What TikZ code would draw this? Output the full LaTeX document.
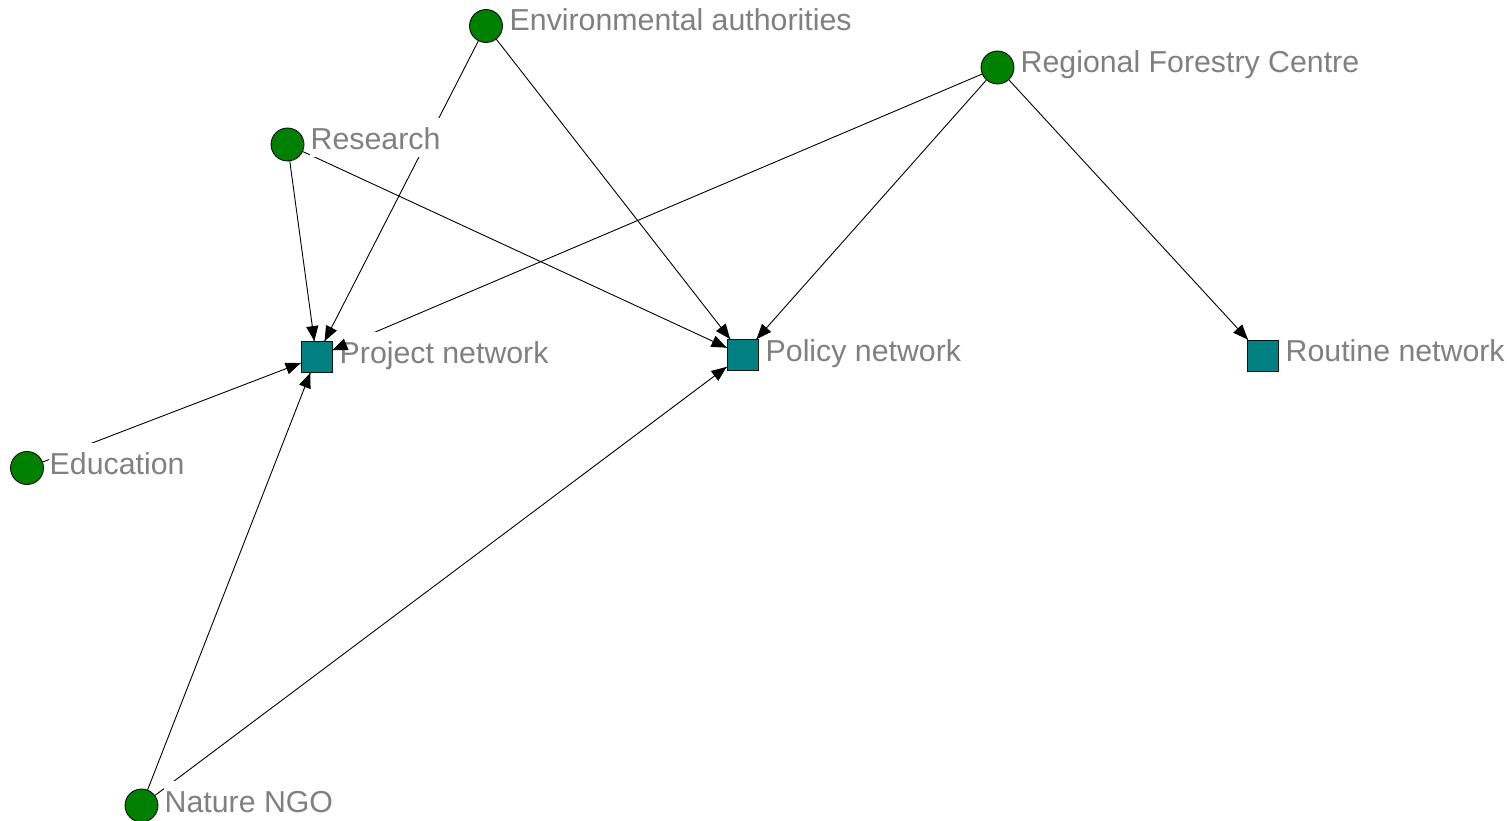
\documentclass[tikz,border=0pt]{standalone}
\usepackage{fontspec}
\setmainfont{Liberation Sans}
\usetikzlibrary{arrows.meta,calc}
\definecolor{ngreen}{RGB}{0,128,0}
\definecolor{nteal}{RGB}{0,128,128}
\definecolor{lgray}{RGB}{128,128,128}
\begin{document}
\begin{tikzpicture}[x=1pt,y=-1pt,
  actor/.style={circle,draw=black,fill=ngreen,line width=0.8pt,minimum size=33pt,inner sep=0pt},
  net/.style={rectangle,draw=black!85!nteal,fill=nteal,line width=0.8pt,minimum size=31pt,inner sep=0pt},
  lab/.style={anchor=base west,fill=white,inner sep=0.5pt,text=lgray,font=\fontsize{30.3}{31}\selectfont,text height=31pt,text depth=7pt},
  edge/.style={draw=black,line width=0.9pt},
  tip/.style={-{Triangle[length=15pt,width=12pt]},line width=0.9pt}]
\path[use as bounding box] (0,0) rectangle (1507,821);
% nodes
\node[actor] (env) at (486,26) {};
\node[actor] (reg) at (997.5,67.5) {};
\node[actor] (res) at (287.5,144.5) {};
\node[actor] (edu) at (27,468) {};
\node[actor] (ngo) at (141.5,805.5) {};
\node[net] (proj) at (316.5,357) {};
\node[net] (pol) at (742.5,355) {};
\node[net] (rout) at (1262.5,355.5) {};
% connectors
\foreach \a/\b in {env/proj,env/pol,res/proj,res/pol,reg/proj,reg/pol,reg/rout,edu/proj,ngo/proj,ngo/pol}
  {\draw[edge] (\a) -- (\b);}
% labels
\node[lab] (lenv) at (509,31) {Environmental authorities};
\node[lab] (lreg) at (1020,73) {Regional Forestry Centre};
\node[lab] (lres) at (310,150) {Research};
\node[lab] (lproj) at (339,363) {Project network};
\node[lab] (lpol) at (765,361) {Policy network};
\node[lab] (lrout) at (1285,361) {Routine network};
\node[lab] (ledu) at (49,474) {Education};
\node[lab] (lngo) at (164,812) {Nature NGO};
% arrowheads on top
\foreach \a/\b in {env/proj,env/pol,res/proj,res/pol,reg/proj,reg/pol,reg/rout,edu/proj,ngo/proj,ngo/pol}
  {\draw[tip] ($(\b)!32pt!(\a)$) -- (\b);}
\end{tikzpicture}
\end{document}
